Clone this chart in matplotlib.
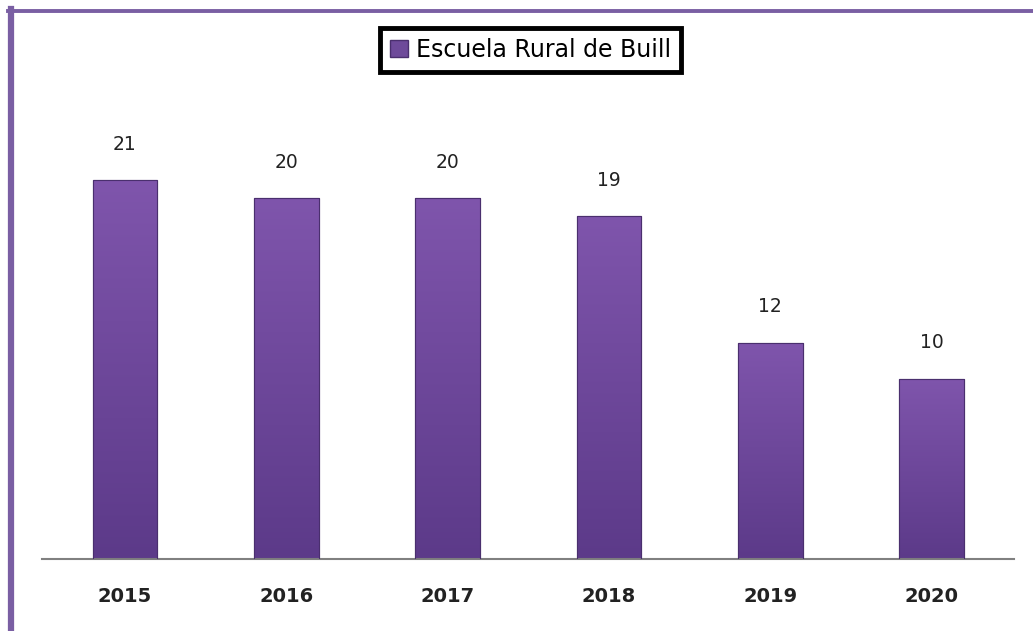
import matplotlib
matplotlib.use("Agg")
import matplotlib.pyplot as plt
import numpy as np
from matplotlib.colors import LinearSegmentedColormap
from matplotlib.patches import Rectangle
from matplotlib.lines import Line2D

years = ["2015", "2016", "2017", "2018", "2019", "2020"]
values = [21, 20, 20, 19, 12, 10]
series_name = "Escuela Rural de Buill"

fig = plt.figure(figsize=(10.33, 6.31), dpi=100)
fig.patch.set_facecolor("white")
ax = fig.add_axes([0.0407, 0.1141, 0.9409, 0.7147])

x = np.arange(len(years))
bars = ax.bar(x, values, width=0.4, color="#6e4a9a", edgecolor="#4a2f6e",
              linewidth=0.8, zorder=2, label=series_name)

cmap = LinearSegmentedColormap.from_list("g", ["#5c3a89", "#7f55ac"])
grad = np.linspace(0, 1, 256).reshape(-1, 1)
for b in bars:
    x0, y0 = b.get_x(), b.get_y()
    w, h = b.get_width(), b.get_height()
    im = ax.imshow(grad, extent=[x0, x0 + w, y0, y0 + h], origin="lower",
                   cmap=cmap, aspect="auto", zorder=2.5)
    im.set_clip_path(b)
    ax.add_patch(Rectangle((x0, y0), w, h, fill=False, edgecolor="#4a2f6e",
                           linewidth=0.8, zorder=3))

for xi, v in zip(x, values):
    ax.text(xi, v + 1.45, str(v), ha="center", va="bottom", fontsize=13.5,
            color="#222222")

ax.set_xlim(-0.514, 5.51)
ax.set_ylim(0, 25)
ax.set_xticks(x)
ax.set_xticklabels(years, fontsize=14, fontweight="bold", color="#222222")
ax.tick_params(axis="x", length=0, pad=20)
ax.set_yticks([])
for s in ["top", "right", "left"]:
    ax.spines[s].set_visible(False)
ax.spines["bottom"].set_color("#808080")
ax.spines["bottom"].set_linewidth(1.5)
ax.set_facecolor("none")

handle = Rectangle((0, 0), 1, 1, facecolor="#6e4a9a", edgecolor="#4a2f6e")
leg = fig.legend([handle], [series_name], loc="center",
                 bbox_to_anchor=(0.5135, 0.921), fontsize=17, frameon=True,
                 framealpha=1, fancybox=False, handlelength=0.75,
                 handleheight=0.75, handletextpad=0.35, borderpad=0.42,
                 borderaxespad=0)
leg.get_frame().set_edgecolor("black")
leg.get_frame().set_linewidth(3.5)

# outer purple border (top and left)
border_color = "#7a5fa3"
fig.add_artist(Line2D([8 / 1033, 1.0], [1 - 10.5 / 631, 1 - 10.5 / 631],
                      transform=fig.transFigure, color=border_color, lw=2.8))
fig.add_artist(Line2D([11 / 1033, 11 / 1033], [0, 1 - 9 / 631],
                      transform=fig.transFigure, color=border_color, lw=4.5))

fig.savefig("out.png", dpi=100)
